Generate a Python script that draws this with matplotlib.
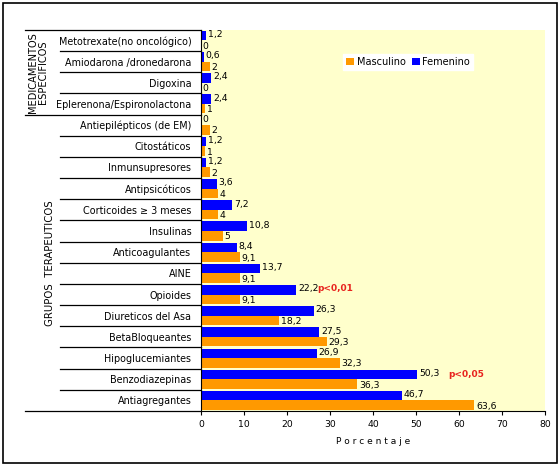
import matplotlib
matplotlib.use("Agg")
import matplotlib.pyplot as plt
import matplotlib.transforms as mtransforms
from matplotlib.patches import Rectangle
import numpy as np

categorias = [
    "Metotrexate(no oncológico)", "Amiodarona /dronedarona", "Digoxina",
    "Eplerenona/Espironolactona", "Antiepilépticos (de EM)", "Citostáticos",
    "Inmunsupresores", "Antipsicóticos", "Corticoides ≥ 3 meses", "Insulinas",
    "Anticoagulantes", "AINE", "Opioides", "Diureticos del Asa",
    "BetaBloqueantes", "Hipoglucemiantes", "Benzodiazepinas", "Antiagregantes",
]
femenino = [1.2, 0.6, 2.4, 2.4, 0, 1.2, 1.2, 3.6, 7.2, 10.8, 8.4, 13.7, 22.2,
            26.3, 27.5, 26.9, 50.3, 46.7]
masculino = [0, 2, 0, 1, 2, 1, 2, 4, 4, 5, 9.1, 9.1, 9.1, 18.2, 29.3, 32.3,
             36.3, 63.6]
xticks = [0, 10, 20, 30, 40, 50, 60, 70, 80]
n_especificos = 4

azul = "#0000ff"
naranja = "#ff9900"

def fmt(v):
    return ("%g" % v).replace(".", ",")

fig = plt.figure(figsize=(5.6, 4.66), dpi=100)
fig.patches.append(Rectangle((0.006, 0.006), 0.988, 0.988, transform=fig.transFigure,
                             fill=False, edgecolor="black", linewidth=1.2))
ax = fig.add_axes([0.359, 0.118, 0.614, 0.818])
ax.set_facecolor("#ffffcc")

y = np.arange(len(categorias))
h = 0.45
ax.barh(y - h / 2, femenino, height=h, color=azul, label="Femenino")
ax.barh(y + h / 2, masculino, height=h, color=naranja, label="Masculino")

for i in range(len(categorias)):
    ax.text(femenino[i] + 0.4, y[i] - h / 2 - 0.05, fmt(femenino[i]), fontsize=6.7,
            va="center", ha="left")
    ax.text(masculino[i] + 0.4, y[i] + h / 2 + 0.05, fmt(masculino[i]), fontsize=6.7,
            va="center", ha="left")

ax.text(27.0, 12 - h / 2 - 0.05, "p<0,01", color="#e8231e", fontsize=6.5,
        fontweight="bold", va="center")
ax.text(57.5, 16 - h / 2, "p<0,05", color="#e8231e", fontsize=6.5,
        fontweight="bold", va="center")

ax.set_ylim(len(categorias) - 0.5, -0.5)
ax.set_xlim(0, 80)
ax.set_xticks(xticks)
ax.tick_params(axis="x", labelsize=6.7, length=3)
ax.set_yticks(y)
ax.set_yticklabels(categorias, fontsize=6.9)
ax.tick_params(axis="y", length=0, pad=7)
for s in ["top", "right"]:
    ax.spines[s].set_visible(False)
ax.set_xlabel("P o r c e n t a j e", fontsize=6.5, labelpad=6)

# separadores de la columna de etiquetas
tr = mtransforms.blended_transform_factory(fig.transFigure, ax.transData)
x_fin = 0.359
for k in range(len(categorias) + 1):
    yb = k - 0.5
    if k in (0, n_especificos, len(categorias)):
        x0 = 25 / 560
    else:
        x0 = 60 / 560
    ax.plot([x0, x_fin], [yb, yb], color="black", lw=0.9, transform=tr, clip_on=False)

ax.text(38 / 560, (n_especificos - 1) / 2, "MEDICAMENTOS\nESPECIFICOS", transform=tr,
        rotation=90, ha="center", va="center", fontsize=7.1, linespacing=0.95)
ax.text(50 / 560, (n_especificos + len(categorias) - 1) / 2, "GRUPOS  TERAPEUTICOS",
        transform=tr, rotation=90, ha="center", va="center", fontsize=7.3)

handles, labels = ax.get_legend_handles_labels()
leg = ax.legend(handles[::-1], labels[::-1], loc="upper left",
                bbox_to_anchor=(0.4, 0.95), ncol=2, fontsize=7, frameon=True,
                fancybox=False, edgecolor="white", handlelength=0.8,
                handleheight=0.8, handletextpad=0.3, columnspacing=0.6,
                borderpad=0.3, framealpha=1)

fig.savefig("out.png", dpi=100)
